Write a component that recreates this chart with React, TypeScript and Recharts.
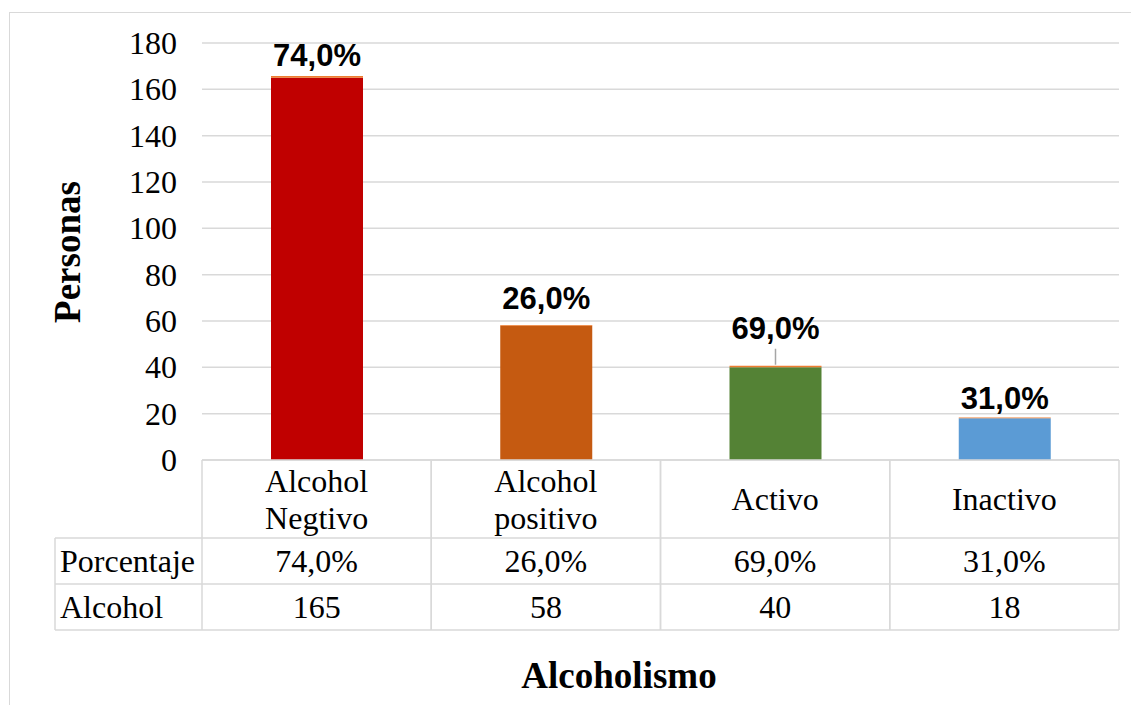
import { Bar, BarChart, CartesianGrid, Cell, LabelList, XAxis, YAxis } from "recharts";

const categories = ["Alcohol Negtivo", "Alcohol positivo", "Activo", "Inactivo"];
const alcohol = [165, 58, 40, 18];
const porcentaje = [0.74, 0.26, 0.69, 0.31];
const yTicks = [0, 20, 40, 60, 80, 100, 120, 140, 160, 180];

const barColors = ["#C00000", "#C55A11", "#548235", "#5B9BD5"];
// how far each data label sits above its bar (hand placed in the original)
const labelLift = [21, 27, 37, 19];

const W = 1131;
const H = 697;
const PLOT_LEFT = 194;
const PLOT_RIGHT = 1111;
const PLOT_TOP = 35;
const PLOT_BOTTOM = 452;
const BAND = (PLOT_RIGHT - PLOT_LEFT) / categories.length;
const ROWS = [PLOT_BOTTOM, 530, 576, 622];
const TABLE_LEFT = 47;
const LINE = "#d9d9d9";
const SERIF = "'Liberation Serif', 'Times New Roman', serif";
const SANS = "'Liberation Sans', Arial, sans-serif";

const cellText = { fontFamily: SERIF, fontSize: 32, fill: "#000" };
const titleText = { fontFamily: SERIF, fontSize: 37, fontWeight: "bold" as const, fill: "#000" };

const rows = categories.map((name, i) => ({
  name,
  alcohol: alcohol[i],
  pct: porcentaje[i],
}));

function fmtPct(v: number) {
  return (v * 100).toFixed(1).replace(".", ",") + "%";
}

function TableTick(props: any) {
  const { x, payload } = props;
  const i = payload.index;
  const left = x - BAND / 2;
  const right = x + BAND / 2;
  const words = String(payload.value).split(" ");
  const catMid = (ROWS[0] + ROWS[1]) / 2;
  const lineGap = 37;
  return (
    <g>
      <line x1={left} x2={left} y1={ROWS[0]} y2={ROWS[3]} stroke={LINE} strokeWidth={1.5} />
      <line x1={right} x2={right} y1={ROWS[0]} y2={ROWS[3]} stroke={LINE} strokeWidth={1.5} />
      {i === 0 && (
        <g>
          <line x1={TABLE_LEFT} x2={TABLE_LEFT} y1={ROWS[1]} y2={ROWS[3]} stroke={LINE} strokeWidth={1.5} />
          {ROWS.slice(1).map((ry) => (
            <line key={ry} x1={TABLE_LEFT} x2={PLOT_RIGHT} y1={ry} y2={ry} stroke={LINE} strokeWidth={1.5} />
          ))}
          <line x1={PLOT_LEFT} x2={PLOT_RIGHT} y1={ROWS[0]} y2={ROWS[0]} stroke={LINE} strokeWidth={1.5} />
          <text x={TABLE_LEFT + 5} y={(ROWS[1] + ROWS[2]) / 2} dominantBaseline="central" style={cellText}>
            Porcentaje
          </text>
          <text x={TABLE_LEFT + 5} y={(ROWS[2] + ROWS[3]) / 2} dominantBaseline="central" style={cellText}>
            Alcohol
          </text>
        </g>
      )}
      {words.map((w, k) => (
        <text
          key={k}
          x={x}
          y={catMid + (k - (words.length - 1) / 2) * lineGap}
          textAnchor="middle"
          dominantBaseline="central"
          style={cellText}
        >
          {w}
        </text>
      ))}
      <text x={x} y={(ROWS[1] + ROWS[2]) / 2} textAnchor="middle" dominantBaseline="central" style={cellText}>
        {fmtPct(porcentaje[i])}
      </text>
      <text x={x} y={(ROWS[2] + ROWS[3]) / 2} textAnchor="middle" dominantBaseline="central" style={cellText}>
        {alcohol[i]}
      </text>
    </g>
  );
}

function YTick(props: any) {
  const { x, y, payload } = props;
  return (
    <text x={x} y={y} textAnchor="end" dominantBaseline="central" style={cellText}>
      {payload.value}
    </text>
  );
}

function PctLabel(props: any) {
  const { x, y, width, index, value } = props;
  const cx = x + width / 2;
  const lift = labelLift[index];
  return (
    <g>
      {lift > 30 && <line x1={cx} x2={cx} y1={y - 17} y2={y - 1} stroke="#a6a6a6" strokeWidth={1.5} />}
      <text
        x={cx}
        y={y - lift}
        textAnchor="middle"
        dominantBaseline="central"
        style={{ fontFamily: SANS, fontWeight: "bold", fontSize: 31, fill: "#000" }}
      >
        {fmtPct(value)}
      </text>
    </g>
  );
}

export default function App() {
  return (
    <div style={{ position: "relative", width: W, height: H, overflow: "hidden", background: "#fff" }}>
      <div
        style={{
          position: "absolute",
          left: 1,
          top: 4,
          width: 1300,
          height: 900,
          border: `1.5px solid ${LINE}`,
        }}
      />
      <BarChart
        width={W}
        height={H}
        data={rows}
        margin={{ top: PLOT_TOP, right: W - PLOT_RIGHT, bottom: 0, left: 0 }}
        barSize={92}
        style={{ position: "absolute", left: 0, top: 0 }}
      >
        <CartesianGrid vertical={false} stroke={LINE} strokeWidth={1.5} />
        <YAxis
          width={PLOT_LEFT}
          domain={[0, 180]}
          ticks={yTicks}
          axisLine={false}
          tickLine={false}
          tickMargin={19}
          tick={<YTick />}
          label={{
            value: "Personas",
            content: () => (
              <text x={59} y={244} transform="rotate(-90 59 244)" textAnchor="middle" dominantBaseline="central" style={titleText}>
                Personas
              </text>
            ),
          }}
        />
        <XAxis
          dataKey="name"
          height={H - PLOT_BOTTOM}
          axisLine={false}
          tickLine={false}
          interval={0}
          tick={<TableTick />}
          label={{
            value: "Alcoholismo",
            content: () => (
              <text x={611} y={680} textAnchor="middle" style={titleText}>
                Alcoholismo
              </text>
            ),
          }}
        />
        <Bar dataKey="alcohol" stackId="a" isAnimationActive={false}>
          {rows.map((_, i) => (
            <Cell key={i} fill={barColors[i]} />
          ))}
        </Bar>
        <Bar dataKey="pct" stackId="a" fill="#ED7D31" isAnimationActive={false}>
          <LabelList dataKey="pct" content={<PctLabel />} />
        </Bar>
      </BarChart>
    </div>
  );
}
